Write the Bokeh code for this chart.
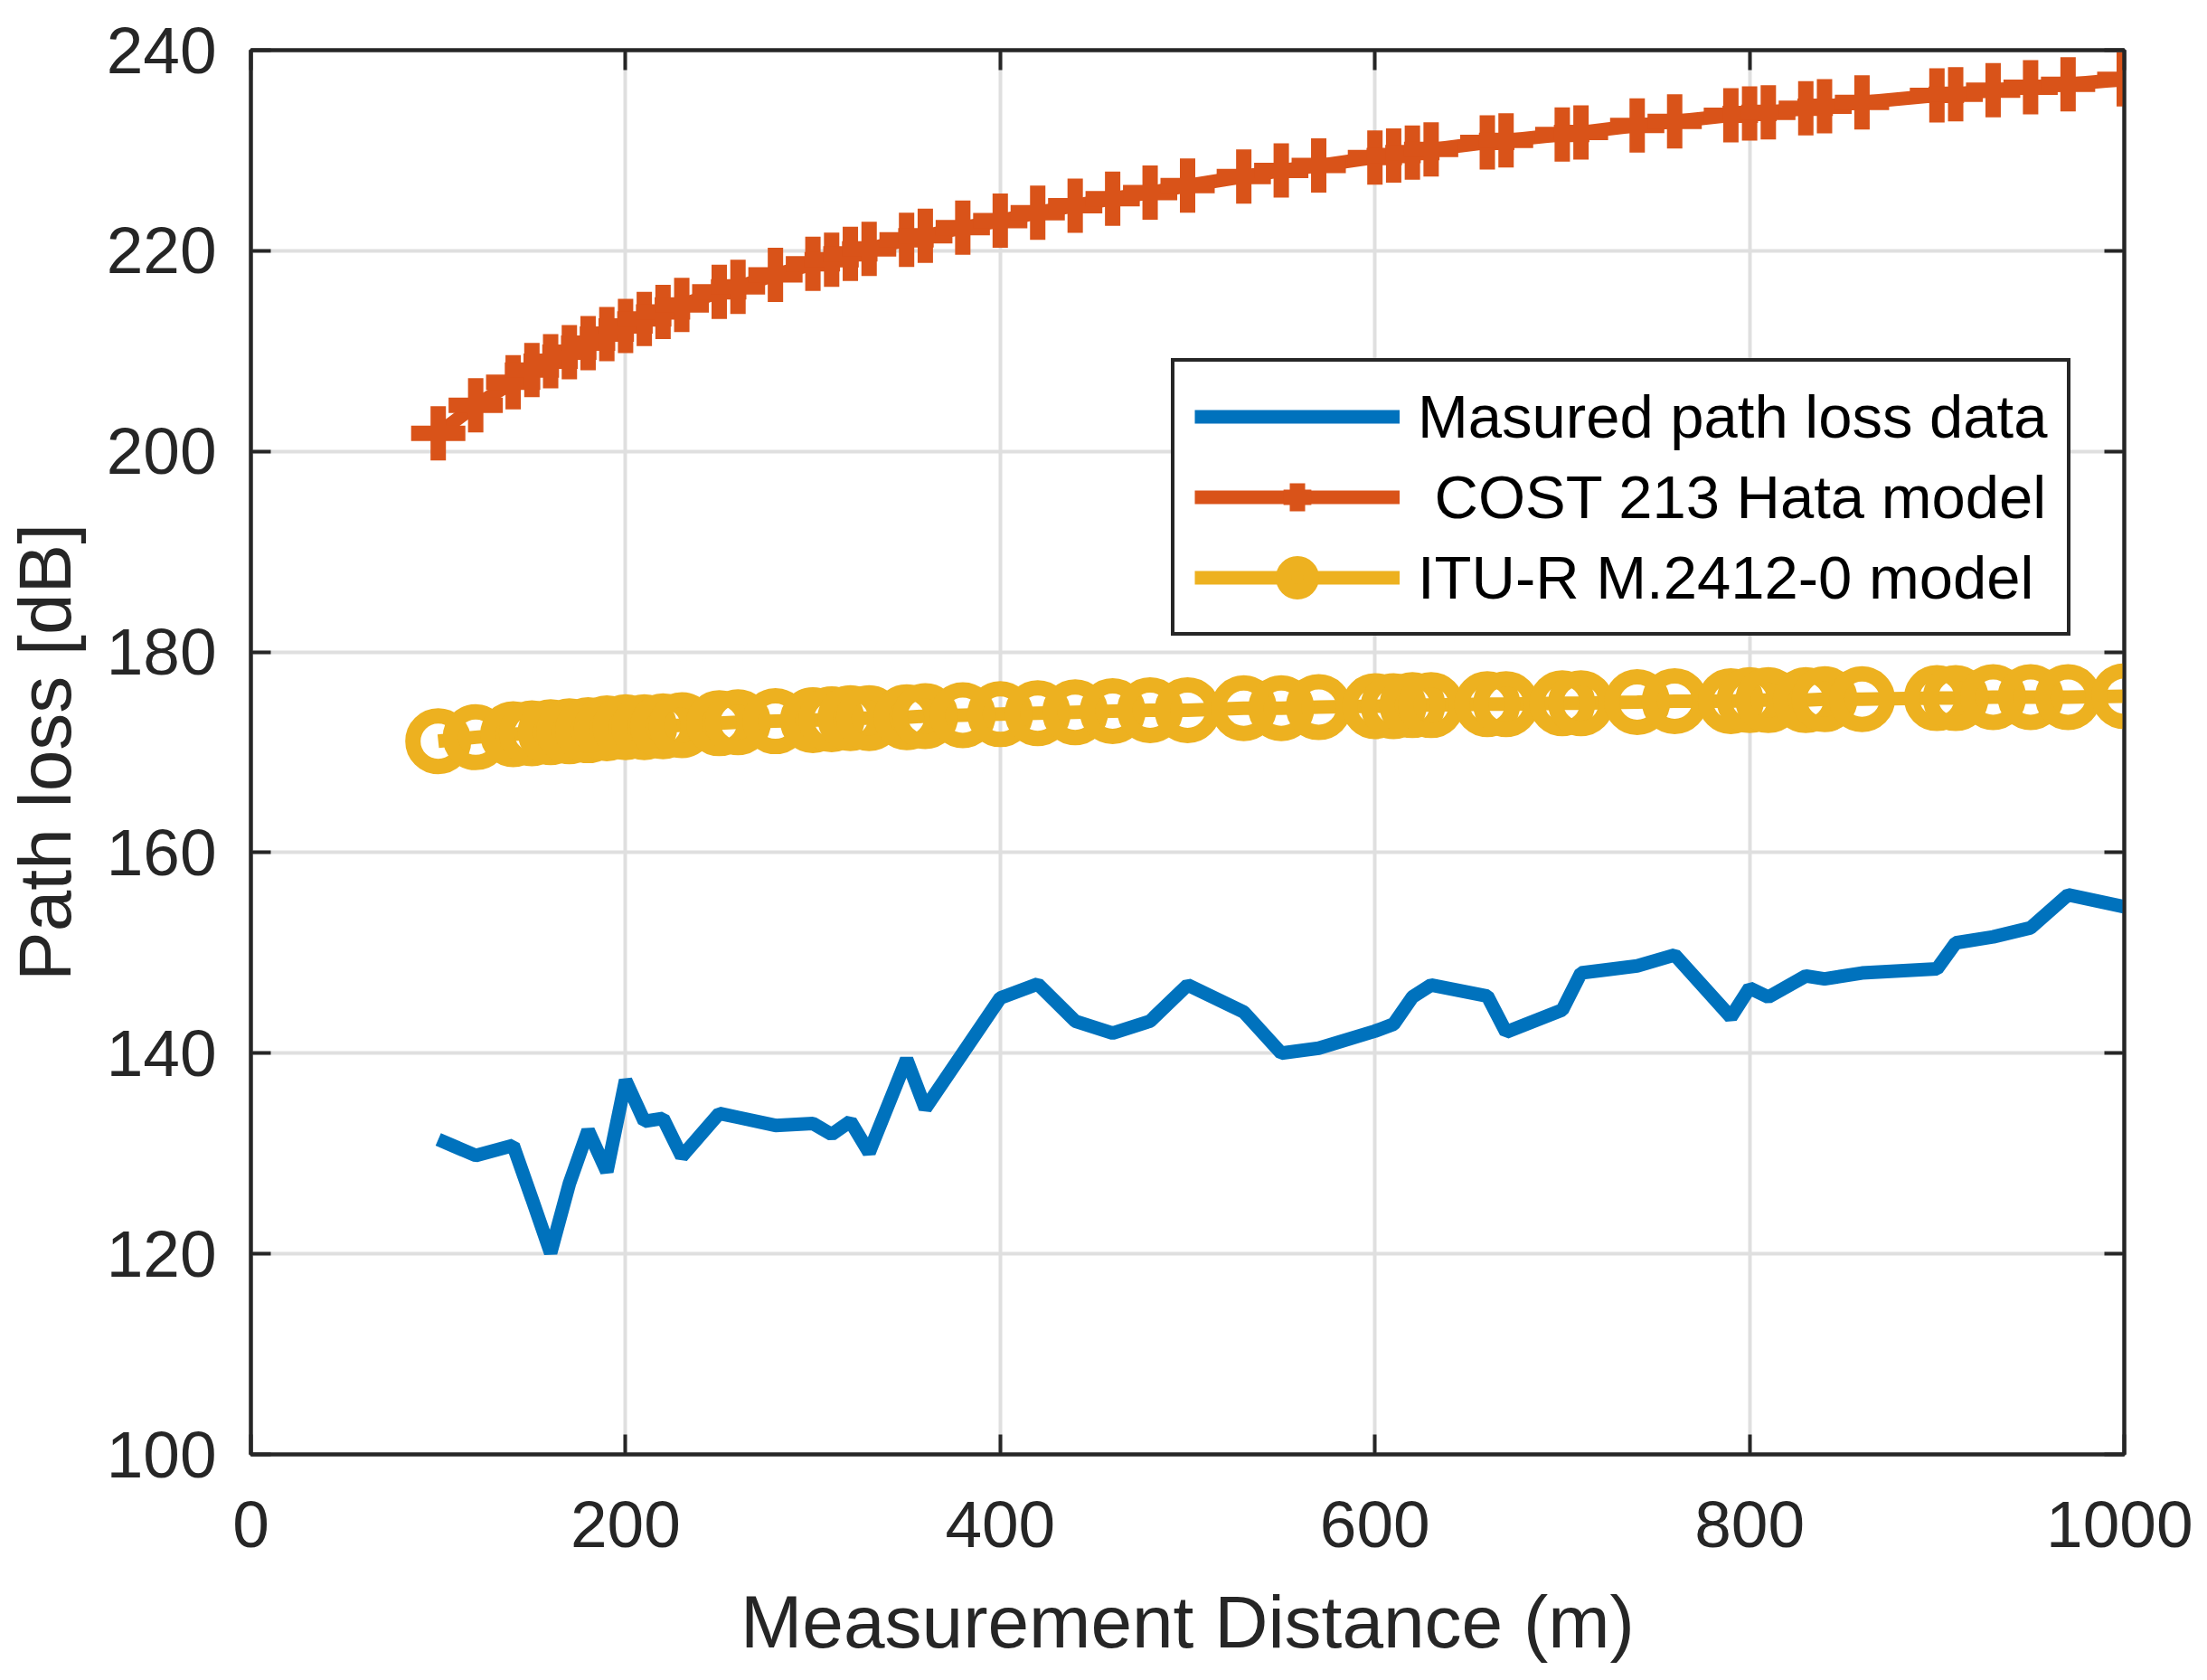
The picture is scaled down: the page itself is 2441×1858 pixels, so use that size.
#!/usr/bin/env python3
# -*- coding:utf-8 -*-

from bokeh.plotting import figure
from bokeh.models import FixedTicker, LinearAxis, Range1d, CustomLabelingPolicy
from bokeh.embed import file_html
from bokeh.resources import INLINE

# distance (m)
distance = [100, 120, 140, 150, 160, 170, 180, 190, 200, 210, 220, 230,
            250, 260, 280, 300, 310, 320, 330, 350, 360, 380, 400, 420,
            440, 460, 480, 500, 530, 550, 570, 600, 610, 620, 630, 660,
            670, 700, 710, 740, 760, 790, 800, 810, 830, 840, 860, 900,
            910, 930, 950, 970, 1000]

# measured path loss (dB)
measured = [131.4, 129.8, 130.8, 125.5, 120.1, 127.0, 132.3, 128.2, 137.3,
            133.2, 133.5, 129.7, 134.0, 133.6, 132.8, 133.0, 131.9, 133.2,
            130.1, 139.4, 134.5, 140.0, 145.5, 146.9, 143.2, 142.0, 143.2,
            146.8, 144.1, 140.0, 140.5, 142.2, 142.9, 145.6, 146.8, 145.7,
            142.1, 144.3, 148.0, 148.7, 149.8, 143.6, 146.5, 145.6, 147.7,
            147.4, 148.0, 148.4, 151.0, 151.6, 152.5, 155.8, 154.6]

# COST 231 Hata model (dB)
cost_hata = [201.8, 204.6, 206.9, 208.1, 209.0, 209.9, 210.8, 211.7, 212.5,
             213.2, 213.9, 214.6, 215.9, 216.4, 217.6, 218.7, 219.1, 219.7,
             220.2, 221.1, 221.5, 222.3, 223.0, 223.8, 224.5, 225.2, 225.8,
             226.5, 227.4, 228.0, 228.5, 229.3, 229.5, 229.8, 230.1, 230.8,
             231.0, 231.6, 231.8, 232.5, 232.9, 233.5, 233.7, 233.8, 234.2,
             234.4, 234.8, 235.5, 235.6, 236.0, 236.3, 236.6, 237.1]

# ITU-R M.2412-0 model (dB)
itu_model = [171.1, 171.5, 171.8, 171.9, 172.0, 172.1, 172.2, 172.4, 172.5,
             172.5, 172.6, 172.7, 172.9, 173.0, 173.1, 173.2, 173.3, 173.4,
             173.4, 173.5, 173.6, 173.7, 173.8, 173.9, 174.0, 174.1, 174.2,
             174.2, 174.4, 174.4, 174.5, 174.6, 174.6, 174.7, 174.7, 174.8,
             174.8, 174.9, 174.9, 175.0, 175.1, 175.1, 175.2, 175.2, 175.2,
             175.3, 175.3, 175.4, 175.4, 175.5, 175.5, 175.5, 175.6]

x_ticks = [0, 200, 400, 600, 800, 1000]
y_ticks = [100, 120, 140, 160, 180, 200, 220, 240]

FONT = "Liberation Sans"
INK = "#262626"
BLUE, RED, YELLOW = "#0072BD", "#D95319", "#EDB120"

# drop every label on the tick-only box axes
NO_LABELS = """
try {
    for (const i of Array.from(indices)) { indices.unset(i) }
} catch (e) {}
return indices
"""

p = figure(width=2425, height=1842, output_backend="svg", toolbar_location=None,
           x_range=Range1d(0, 1000), y_range=Range1d(100, 240),
           min_border_left=277, min_border_right=76,
           min_border_top=55, min_border_bottom=234)
p.outline_line_color = INK
p.outline_line_width = 4

p.xaxis.axis_label = "Measurement Distance (m)"
p.yaxis.axis_label = "Path loss [dB]"
p.xaxis.ticker = FixedTicker(ticks=x_ticks)
p.yaxis.ticker = FixedTicker(ticks=y_ticks)
p.xgrid.ticker = FixedTicker(ticks=x_ticks)
p.ygrid.ticker = FixedTicker(ticks=y_ticks)
p.grid.grid_line_color = "#dfdfdf"
p.grid.grid_line_width = 4

for ax in p.axis:
    ax.axis_line_color = INK
    ax.axis_line_width = 4
    ax.major_tick_line_color = INK
    ax.major_tick_line_width = 4
    ax.major_tick_in = 22
    ax.major_tick_out = 0
    ax.minor_tick_line_color = None
    ax.major_label_text_font = FONT
    ax.major_label_text_font_size = "73px"
    ax.major_label_text_color = INK
    ax.axis_label_text_font = FONT
    ax.axis_label_text_font_size = "82px"
    ax.axis_label_text_font_style = "normal"
    ax.axis_label_text_color = INK
p.xaxis.major_label_standoff = 52
p.yaxis.major_label_standoff = 38
p.xaxis.axis_label_standoff = 34
p.yaxis.axis_label_standoff = 20

# box ticks on top and right
for side in ("above", "right"):
    ax = LinearAxis(ticker=FixedTicker(ticks=x_ticks if side == "above" else y_ticks),
                    major_label_policy=CustomLabelingPolicy(code=NO_LABELS),
                    major_label_text_font_size="0px", major_label_standoff=0,
                    axis_line_color=INK, axis_line_width=4,
                    major_tick_line_color=INK, major_tick_line_width=4,
                    major_tick_in=22, major_tick_out=0,
                    minor_tick_line_color=None)
    p.add_layout(ax, side)

p.line(distance, measured, line_color=BLUE, line_width=15,
       legend_label="Masured path loss data")
p.line(distance, cost_hata, line_color=RED, line_width=15,
       legend_label=" COST 213 Hata model")
p.scatter(distance, cost_hata, marker="cross", size=60, line_color=RED,
          line_width=17, legend_label=" COST 213 Hata model")
p.line(distance, itu_model, line_color=YELLOW, line_width=15,
       legend_label="ITU-R M.2412-0 model")
p.scatter(distance, itu_model, marker="circle", size=56, fill_color=None,
          line_color=YELLOW, line_width=17, legend_label="ITU-R M.2412-0 model")

lg = p.legend[0]
lg.location = (1018, 905)
lg.border_line_color = INK
lg.border_line_width = 4
lg.border_line_alpha = 1
lg.background_fill_color = "white"
lg.background_fill_alpha = 1
lg.label_text_font = FONT
lg.label_text_font_size = "67px"
lg.label_text_color = "black"
lg.glyph_width = 227
lg.glyph_height = 77
lg.label_height = 77
lg.label_standoff = 20
lg.spacing = 12
lg.padding = 22
lg.margin = 0

open("out.html", "w").write(file_html(p, INLINE))
